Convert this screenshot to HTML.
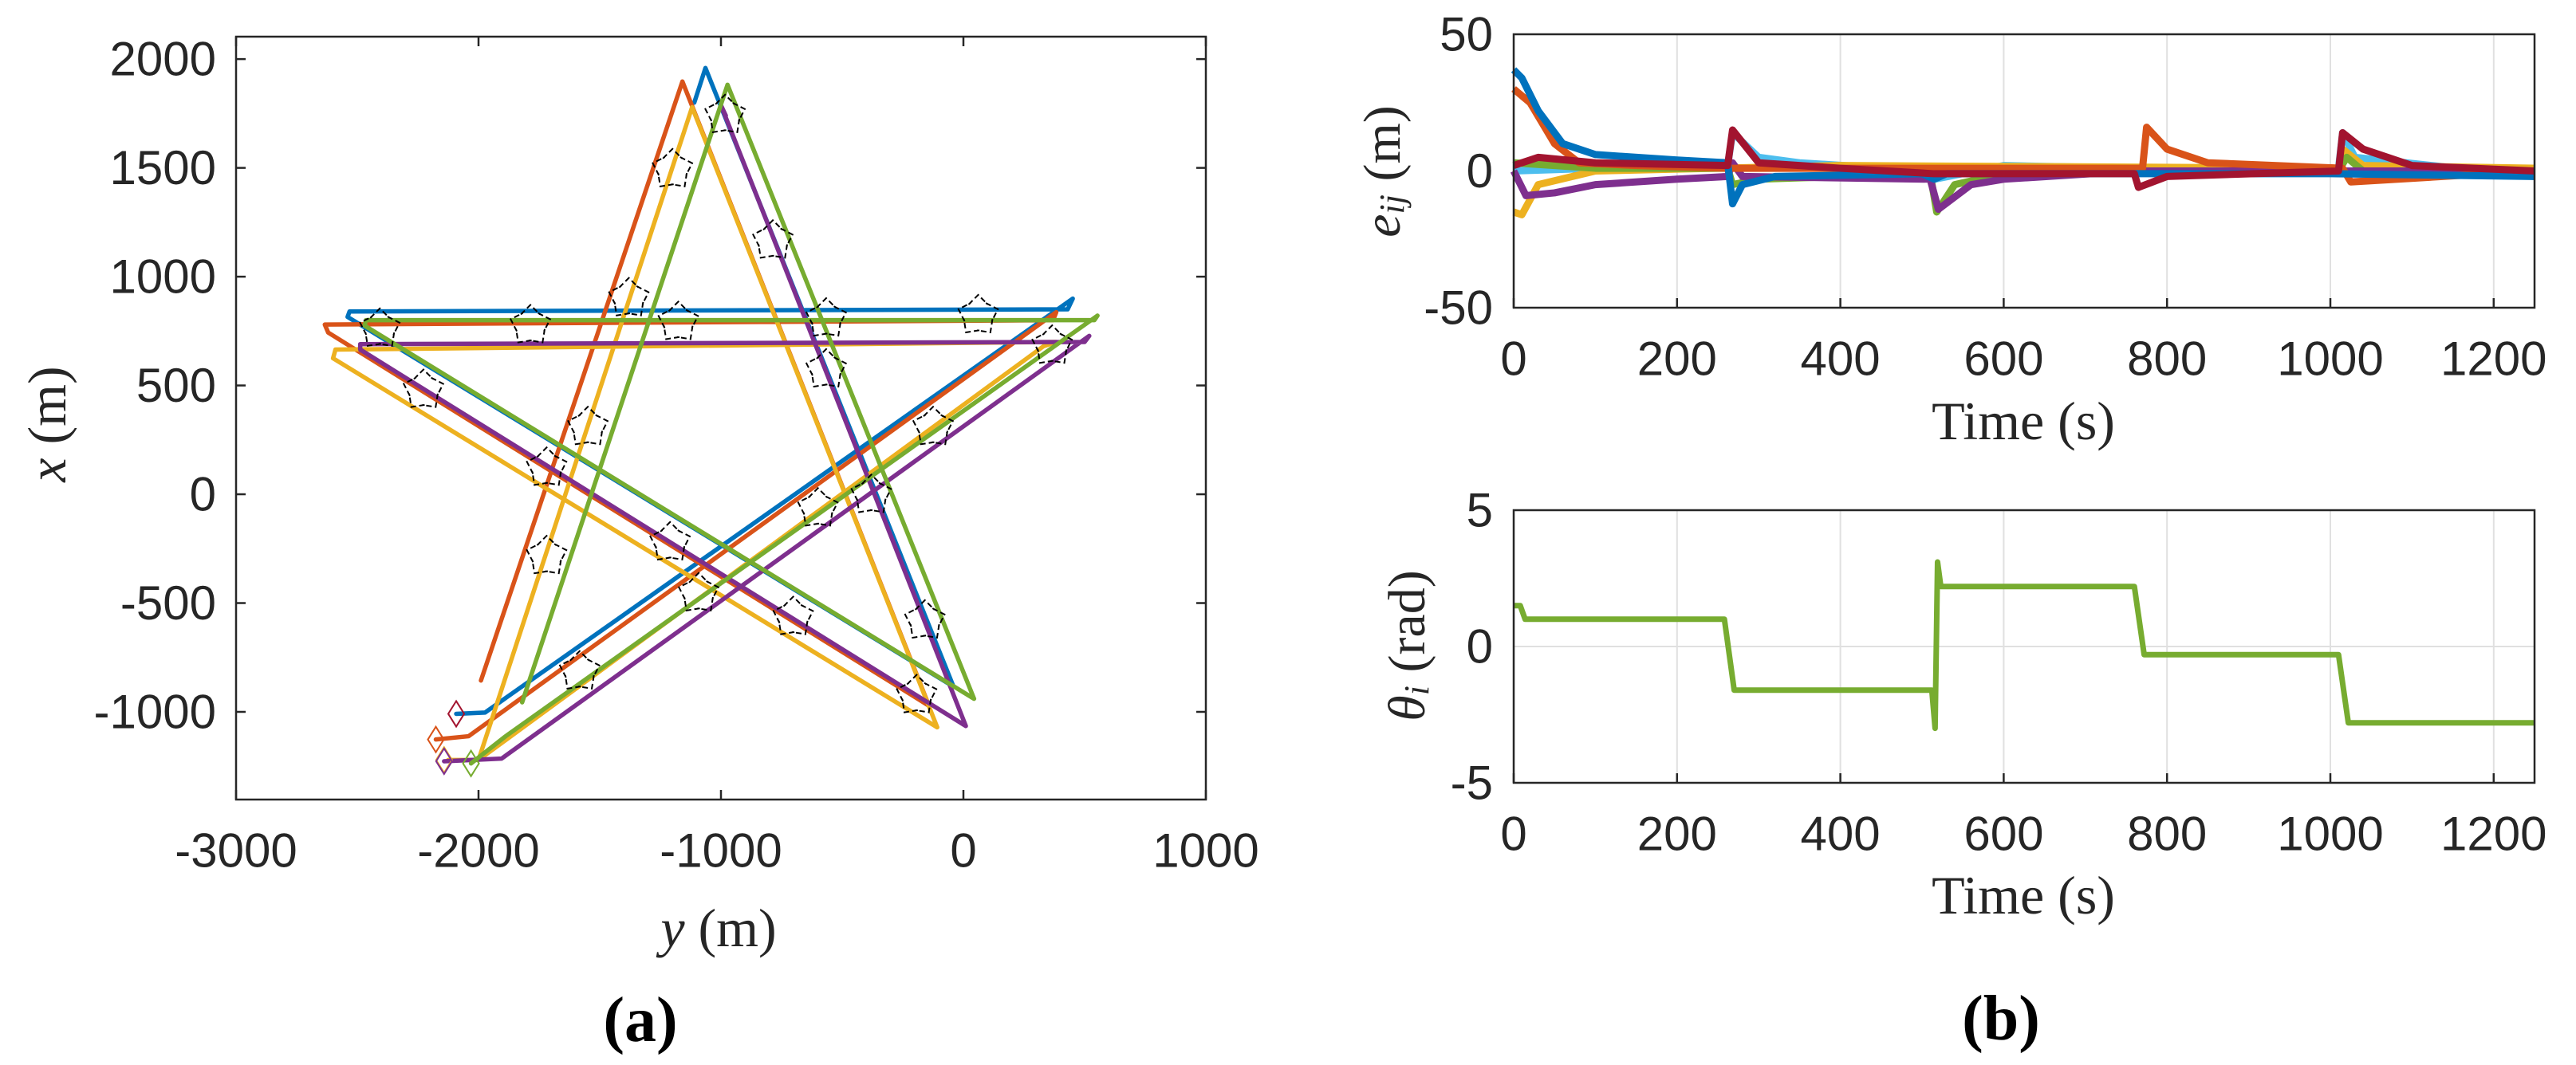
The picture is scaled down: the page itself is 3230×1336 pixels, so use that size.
<!DOCTYPE html>
<html><head><meta charset="utf-8"><style>
html,body{margin:0;padding:0;background:#fff;}
svg{display:block;}
</style></head><body>
<svg id="fig" width="3230" height="1336" viewBox="0 0 3230 1336" xmlns="http://www.w3.org/2000/svg">
<rect x="0" y="0" width="3230" height="1336" fill="#fff"/>
<g id="gA"></g>
<g id="gB"></g>
<g id="gC"></g>
<text x="59" y="532" transform="rotate(-90 59 532)" text-anchor="middle" dominant-baseline="central" font-family="Liberation Serif, serif" font-size="68" fill="#262626"><tspan font-style="italic">x</tspan> (m)</text>
<text x="901" y="1164" text-anchor="middle" dominant-baseline="central" font-family="Liberation Serif, serif" font-size="68" fill="#262626"><tspan font-style="italic">y</tspan> (m)</text>
<text x="803" y="1280" text-anchor="middle" dominant-baseline="central" font-family="Liberation Serif, serif" font-size="80" font-weight="bold" fill="#000">(a)</text>
<text x="1733" y="215" transform="rotate(-90 1733 215)" text-anchor="middle" dominant-baseline="central" font-family="Liberation Serif, serif" font-size="66" fill="#262626"><tspan font-style="italic">e</tspan><tspan font-style="italic" font-size="44" dy="12">ij</tspan><tspan dy="-12">  (m)</tspan></text>
<text x="1764" y="810" transform="rotate(-90 1764 810)" text-anchor="middle" dominant-baseline="central" font-family="Liberation Serif, serif" font-size="66" fill="#262626"><tspan font-style="italic">θ</tspan><tspan font-style="italic" font-size="44" dy="12">i</tspan><tspan dy="-12">  (rad)</tspan></text>
<text x="2537" y="528" text-anchor="middle" dominant-baseline="central" font-family="Liberation Serif, serif" font-size="68" fill="#262626">Time (s)</text>
<text x="2537" y="1123" text-anchor="middle" dominant-baseline="central" font-family="Liberation Serif, serif" font-size="68" fill="#262626">Time (s)</text>
<text x="2509" y="1278" text-anchor="middle" dominant-baseline="central" font-family="Liberation Serif, serif" font-size="80" font-weight="bold" fill="#000">(b)</text>
</svg>
<script>
// ---------- Panel (a) data: [y, x] vertices in metres ----------
const blueTraj   = [[-2092,-1009],[-1973,-1003],[451,899],[430,850],[-2532,840],[-2540,815],[-41,-884],[-1064,1959],[-1110,1800]];
const orangeTraj = [[-2176,-1127],[-2041,-1112],[383,837],[370,800],[-2634,780],[-2620,743],[-142,-972],[-1159,1897],[-1990,-856]];
const yellowTraj = [[-2125,-1221],[-2000,-1221],[-1119,1779],[-108,-1071],[-2600,625],[-2590,665],[383,700],[330,680],[-2000,-1221]];
const greenTraj  = [[-2031,-1237],[-1888,-1112],[553,821],[540,800],[-2464,800],[-2470,775],[44,-940],[-973,1882],[-1820,-956]];
const purpleTraj = [[-2142,-1227],[-1905,-1215],[519,728],[500,700],[-2488,690],[-2488,665],[10,-1065],[-1000,1788],[-980,1740]];
const startY = [-2092,-2176,-2142,-2031,-2142];
const startX = [-1009,-1127,-1221,-1237,-1227];
const formY = [-2407,-1786,-1380,-1176,61,366,-2227,-1549,-1719,-1719,-1210,-1092,-702,-159,-193,-1583,-600,-380,-125,-566,-566,-786,-1200,-983];
const formX = [759,775,899,790,821,681,478,307,120,-286,-223,-457,-566,-582,-925,-816,-67,-5,307,572,806,1164,1492,1741];
const aXTicks = [-3000,-2000,-1000,0,1000];
const aYTicks = [-1000,-500,0,500,1000,1500,2000];

// ---------- Panel (b) data ----------
const eTicksX = [0,200,400,600,800,1000,1200];
const eTicksY = [-50,0,50];
const thTicksY = [-5,0,5];
const tBlue = [0,10,30,60,100,200,262,268,280,320,500,515,530,600,760,1000,1250];
const eBlue = [37,34,22,10,6,4,3,-12,-5,-2,-1,-3,-1,-1,-1,-1,-2];
const tOrange = [0,20,50,80,150,260,770,775,800,850,1015,1025,1250];
const eOrange = [30,25,10,3,2,1,1,16,8,3,1,-4,0];
const tYellow = [0,10,30,100,400,1010,1015,1040,1250];
const eYellow = [-15,-16,-5,0,2,1,8,2,1];
const tPurple = [0,15,50,100,200,262,268,280,510,520,560,600,760,1250];
const ePurple = [0,-9,-8,-5,-3,-2,3,-2,-3,-14,-5,-3,0,0];
const tGreen = [0,100,262,268,300,510,518,540,600,1010,1020,1040,1250];
const eGreen = [3,1,1,-5,-3,-1,-15,-5,-1,0,5,0,0];
const tLight = [0,100,262,268,300,350,510,515,600,760,1010,1015,1030,1250];
const eLight = [0,1,2,14,5,3,0,-3,2,1,1,14,5,-2];
const tRed = [0,30,100,262,268,300,400,515,760,765,800,1010,1015,1040,1100,1250];
const eRed = [2,5,3,2,15,3,1,-1,-1,-6,-2,0,14,8,2,0];
const tTheta = [0,8,14,258,270,512,516,519,523,760,772,1010,1022,1250];
const vTheta = [1.5,1.5,1.0,1.0,-1.6,-1.6,-3.0,3.1,2.2,2.2,-0.3,-0.3,-2.8,-2.8];

const NS='http://www.w3.org/2000/svg';
function mk(parent,tag,attrs){const e=document.createElementNS(NS,tag);for(const k in attrs)e.setAttribute(k,attrs[k]);parent.appendChild(e);return e;}
const AX='#262626';
const FONT='Liberation Sans, sans-serif';

// ---------- Panel (a) ----------
const A={x0:296,x1:1512,y0:46,y1:1003};
const ay=v=>A.x0+(v+3000)/4000*(A.x1-A.x0);
const ax=v=>A.y0+(2103-v)/3506*(A.y1-A.y0);
const gA=document.getElementById('gA');
aXTicks.forEach(t=>{
  const l1=mk(gA,'line',{x1:ay(t),x2:ay(t),y1:A.y1,y2:A.y1-12,stroke:AX,'stroke-width':2.5});
  
  const l2=mk(gA,'line',{x1:ay(t),x2:ay(t),y1:A.y0,y2:A.y0+12,stroke:AX,'stroke-width':2.5});
  
  const tx=mk(gA,'text',{x:ay(t),y:1067,'text-anchor':'middle','dominant-baseline':'central','font-family':FONT,'font-size':60,fill:AX});
  tx.textContent=String(t);
  
});
aYTicks.forEach(t=>{
  const l1=mk(gA,'line',{x1:A.x0,x2:A.x0+12,y1:ax(t),y2:ax(t),stroke:AX,'stroke-width':2.5});
  
  const l2=mk(gA,'line',{x1:A.x1,x2:A.x1-12,y1:ax(t),y2:ax(t),stroke:AX,'stroke-width':2.5});
  
  const tx=mk(gA,'text',{x:271,y:ax(t),'text-anchor':'end','dominant-baseline':'central','font-family':FONT,'font-size':60,fill:AX});
  tx.textContent=String(t);
  
});
const trajs=[[blueTraj,'#0072BD','blue'],[orangeTraj,'#D95319','orange'],[yellowTraj,'#EDB120','yellow'],[purpleTraj,'#7E2F8E','purple'],[greenTraj,'#77AC30','green']];
trajs.forEach(([d,c,n])=>{
  const p=mk(gA,'polyline',{points:d.map(q=>ay(q[0])+','+ax(q[1])).join(' '),fill:'none',stroke:c,'stroke-width':5.5,'stroke-linejoin':'round','stroke-linecap':'round'});
  
});
const dcol=['#A2142F','#D95319','#EDB120','#77AC30','#7E2F8E'];
startY.forEach((v,i)=>{
  const cx=ay(v),cy=ax(startX[i]);
  const p=mk(gA,'polygon',{points:`${cx},${cy-16} ${cx+10},${cy} ${cx},${cy+16} ${cx-10},${cy}`,fill:'none',stroke:dcol[i],'stroke-width':2});
  
});
formY.forEach((v,i)=>{
  const cx=ay(v),cy=ax(formX[i]);
  const g=mk(gA,'g',{});
  
  for(let k=0;k<5;k++){
    const ang=-Math.PI/2+k*2*Math.PI/5;
    const px=cx+22*Math.cos(ang),py=cy+22*Math.sin(ang);
    const r=ang+Math.PI/2;
    const pts=[[-12,8],[0,-4],[12,8]].map(([a,b])=>(px+a*Math.cos(r)-b*Math.sin(r))+','+(py+a*Math.sin(r)+b*Math.cos(r))).join(' ');
    mk(g,'polyline',{points:pts,fill:'none',stroke:'#000','stroke-width':2,'stroke-dasharray':'7,4'});
  }
});
const boxA=mk(gA,'rect',{x:A.x0,y:A.y0,width:A.x1-A.x0,height:A.y1-A.y0,fill:'none',stroke:AX,'stroke-width':2.5});


// ---------- Panels (b) ----------
function timePanel(g,Y0,Y1,ymin,ymax,yticks){
  const X0=1898,X1=3178;
  const sx=t=>X0+t/1250*(X1-X0);
  const sy=v=>Y0+(ymax-v)/(ymax-ymin)*(Y1-Y0);
  eTicksX.forEach(t=>{
    const gl=mk(g,'line',{x1:sx(t),x2:sx(t),y1:Y0,y2:Y1,stroke:'#e0e0e0','stroke-width':2});
    
    const l1=mk(g,'line',{x1:sx(t),x2:sx(t),y1:Y1,y2:Y1-12,stroke:AX,'stroke-width':2.5});
    
    const tx=mk(g,'text',{x:sx(t),y:Y1+64,'text-anchor':'middle','dominant-baseline':'central','font-family':FONT,'font-size':60,fill:AX});
    tx.textContent=String(t);
    
  });
  yticks.forEach(t=>{
    const gl=mk(g,'line',{x1:X0,x2:X1,y1:sy(t),y2:sy(t),stroke:'#e0e0e0','stroke-width':2});
    
    const tx=mk(g,'text',{x:1872,y:sy(t),'text-anchor':'end','dominant-baseline':'central','font-family':FONT,'font-size':60,fill:AX});
    tx.textContent=String(t);
    
  });
  return {sx,sy,X0,X1};
}
function drawBox(g,X0,X1,Y0,Y1){
  const b=mk(g,'rect',{x:X0,y:Y0,width:X1-X0,height:Y1-Y0,fill:'none',stroke:AX,'stroke-width':2.5});
  
}
const gB=document.getElementById('gB');
const B=timePanel(gB,43,386,-50,50,eTicksY);
const eSeries=[[tLight,eLight,'#4DBEEE','light-blue'],[tYellow,eYellow,'#EDB120','yellow'],[tGreen,eGreen,'#77AC30','green'],[tPurple,ePurple,'#7E2F8E','purple'],[tOrange,eOrange,'#D95319','orange'],[tBlue,eBlue,'#0072BD','blue'],[tRed,eRed,'#A2142F','dark-red']];
eSeries.forEach(([ts,vs,c,n])=>{
  const p=mk(gB,'polyline',{points:ts.map((t,i)=>B.sx(t)+','+B.sy(vs[i])).join(' '),fill:'none',stroke:c,'stroke-width':9,'stroke-linejoin':'round'});
  
});
drawBox(gB,B.X0,B.X1,43,386);
const gC=document.getElementById('gC');
const C=timePanel(gC,640,982,-5,5,thTicksY);
const th=mk(gC,'polyline',{points:tTheta.map((t,i)=>C.sx(t)+','+C.sy(vTheta[i])).join(' '),fill:'none',stroke:'#77AC30','stroke-width':7,'stroke-linejoin':'round'});

drawBox(gC,C.X0,C.X1,640,982);
</script>
</body></html>
